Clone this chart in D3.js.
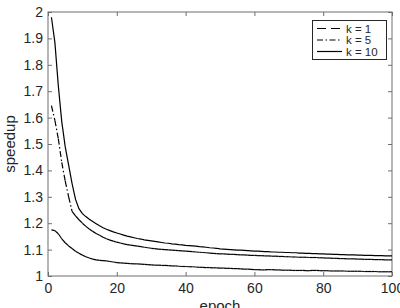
<!DOCTYPE html>
<html>
<head>
<meta charset="utf-8">
<script src="https://cdn.jsdelivr.net/npm/d3@7"></script>
<style>
  body { margin: 0; background: #fff; }
  svg { display: block; }
  text { font-family: "Liberation Sans", Arial, sans-serif; fill: #262626; }
</style>
</head>
<body>
<script>
// epochs 1..100
const epochs = d3.range(1, 101);

const k10 = [1.980, 1.885, 1.720, 1.585, 1.490, 1.420, 1.350, 1.290, 1.255, 1.236,
  1.225, 1.215, 1.206, 1.198, 1.190, 1.183, 1.177, 1.172, 1.167, 1.163,
  1.159, 1.155, 1.151, 1.148, 1.145, 1.142, 1.140, 1.137, 1.135, 1.133,
  1.131, 1.129, 1.127, 1.125, 1.124, 1.122, 1.121, 1.119, 1.118, 1.116,
  1.115, 1.114, 1.113, 1.111, 1.110, 1.109, 1.107, 1.106, 1.105, 1.103,
  1.102, 1.101, 1.100, 1.099, 1.098, 1.098, 1.097, 1.096, 1.095, 1.094,
  1.094, 1.093, 1.092, 1.092, 1.091, 1.091, 1.090, 1.090, 1.089, 1.089,
  1.088, 1.088, 1.087, 1.087, 1.086, 1.086, 1.085, 1.085, 1.084, 1.084,
  1.083, 1.083, 1.082, 1.082, 1.081, 1.081, 1.080, 1.080, 1.080, 1.079,
  1.079, 1.078, 1.078, 1.078, 1.077, 1.077, 1.077, 1.076, 1.076, 1.076];

const k5 = [1.645, 1.590, 1.520, 1.430, 1.360, 1.300, 1.245, 1.228, 1.213, 1.200,
  1.188, 1.178, 1.169, 1.161, 1.154, 1.147, 1.141, 1.136, 1.132, 1.128,
  1.125, 1.122, 1.119, 1.117, 1.115, 1.113, 1.111, 1.109, 1.107, 1.105,
  1.104, 1.102, 1.101, 1.100, 1.099, 1.098, 1.097, 1.096, 1.095, 1.094,
  1.093, 1.092, 1.091, 1.090, 1.089, 1.088, 1.087, 1.086, 1.085, 1.084,
  1.084, 1.083, 1.082, 1.082, 1.081, 1.080, 1.080, 1.079, 1.078, 1.078,
  1.077, 1.077, 1.076, 1.076, 1.075, 1.075, 1.074, 1.074, 1.073, 1.073,
  1.072, 1.072, 1.071, 1.071, 1.071, 1.070, 1.070, 1.070, 1.069, 1.069,
  1.068, 1.068, 1.067, 1.067, 1.066, 1.066, 1.065, 1.065, 1.065, 1.064,
  1.064, 1.063, 1.063, 1.063, 1.062, 1.062, 1.062, 1.061, 1.061, 1.061];

const k1 = [1.175, 1.172, 1.160, 1.141, 1.126, 1.114, 1.104, 1.094, 1.086, 1.079,
  1.073, 1.068, 1.064, 1.061, 1.059, 1.058, 1.057, 1.055, 1.053, 1.051,
  1.050, 1.049, 1.048, 1.047, 1.046, 1.046, 1.045, 1.044, 1.043, 1.042,
  1.041, 1.041, 1.040, 1.040, 1.039, 1.038, 1.038, 1.037, 1.036, 1.036,
  1.035, 1.035, 1.034, 1.033, 1.033, 1.032, 1.032, 1.031, 1.031, 1.030,
  1.030, 1.029, 1.029, 1.028, 1.028, 1.027, 1.026, 1.026, 1.025, 1.024,
  1.024, 1.023, 1.023, 1.024, 1.024, 1.023, 1.023, 1.022, 1.022, 1.022,
  1.021, 1.021, 1.021, 1.021, 1.020, 1.020, 1.021, 1.021, 1.020, 1.020,
  1.020, 1.019, 1.019, 1.019, 1.019, 1.019, 1.018, 1.018, 1.018, 1.018,
  1.018, 1.017, 1.017, 1.017, 1.017, 1.016, 1.016, 1.016, 1.016, 1.016];

const xTicks = [0, 20, 40, 60, 80, 100];
const yTicks = [1, 1.1, 1.2, 1.3, 1.4, 1.5, 1.6, 1.7, 1.8, 1.9, 2];
const seriesNames = ['k = 1', 'k = 5', 'k = 10'];

const WIDTH = 400;
const HEIGHT = 308;
const margin = { top: 12, right: 8, bottom: 32, left: 48 };

const svg = d3.select('body').append('svg')
  .attr('width', WIDTH)
  .attr('height', HEIGHT);

const x = d3.scaleLinear().domain([0, 100]).range([margin.left, WIDTH - margin.right]);
const y = d3.scaleLinear().domain([1, 2]).range([HEIGHT - margin.bottom, margin.top]);

const axisColor = '#6e6e6e';
const tickLen = 4;

// ejes con ticks hacia adentro, en los 4 lados
function styleAxis(g) {
  g.select('.domain').remove();
  g.selectAll('line').attr('stroke', axisColor);
  g.selectAll('text').attr('font-size', 14).attr('fill', '#262626');
}

svg.append('g')
  .attr('transform', `translate(0,${y(1)})`)
  .call(d3.axisBottom(x).tickValues(xTicks).tickSize(-tickLen).tickPadding(7))
  .call(styleAxis);

svg.append('g')
  .attr('transform', `translate(0,${y(2)})`)
  .call(d3.axisTop(x).tickValues(xTicks).tickSize(-tickLen).tickFormat(''))
  .call(styleAxis);

svg.append('g')
  .attr('transform', `translate(${x(0)},0)`)
  .call(d3.axisLeft(y).tickValues(yTicks).tickSize(-tickLen).tickPadding(5).tickFormat(d3.format('~g')))
  .call(styleAxis);

svg.append('g')
  .attr('transform', `translate(${x(100)},0)`)
  .call(d3.axisRight(y).tickValues(yTicks).tickSize(-tickLen).tickFormat(''))
  .call(styleAxis);

// caja
svg.append('rect')
  .attr('x', x(0)).attr('y', y(2))
  .attr('width', x(100) - x(0)).attr('height', y(1) - y(2))
  .attr('fill', 'none').attr('stroke', axisColor).attr('stroke-width', 1);

// etiquetas
svg.append('text')
  .attr('x', (x(0) + x(100)) / 2).attr('y', HEIGHT + 3)
  .attr('text-anchor', 'middle').attr('font-size', 15)
  .text('epoch');

svg.append('text')
  .attr('transform', `translate(14.5,${(y(1) + y(2)) / 2}) rotate(-90)`)
  .attr('text-anchor', 'middle').attr('font-size', 15)
  .text('speedup');

const line = d3.line().x(d => x(d[0])).y(d => y(d[1]));

const styles = [
  { data: k1, dash: '9,5' },
  { data: k5, dash: '6,2.5,1.5,2.5' },
  { data: k10, dash: null },
];

// cada segmento por separado para que el patrón reinicie (como MATLAB)
styles.forEach(s => {
  const pts = epochs.map((e, i) => [e, s.data[i]]);
  if (s.dash === null) {
    svg.append('path')
      .attr('d', line(pts))
      .attr('fill', 'none').attr('stroke', '#000').attr('stroke-width', 1.2);
  } else {
    svg.append('g').selectAll('path')
      .data(d3.pairs(pts))
      .enter()
      .append('path')
      .attr('d', d => line(d))
      .attr('fill', 'none').attr('stroke', '#000').attr('stroke-width', 1.2)
      .attr('stroke-dasharray', s.dash);
  }
});

// leyenda
const legend = svg.append('g');
legend.append('rect')
  .attr('x', 312.5).attr('y', 20.5).attr('width', 74).attr('height', 39)
  .attr('fill', '#fff').attr('stroke', '#262626').attr('stroke-width', 1);

seriesNames.forEach((name, i) => {
  const ly = 28.5 + i * 11.5;
  legend.append('line')
    .attr('x1', 317).attr('x2', 342).attr('y1', ly).attr('y2', ly)
    .attr('stroke', '#000').attr('stroke-width', 1.2)
    .attr('stroke-dasharray', styles[i].dash);
  legend.append('text')
    .attr('x', 346).attr('y', ly + 4.2)
    .attr('font-size', 11.5)
    .text(name);
});
</script>
</body>
</html>
